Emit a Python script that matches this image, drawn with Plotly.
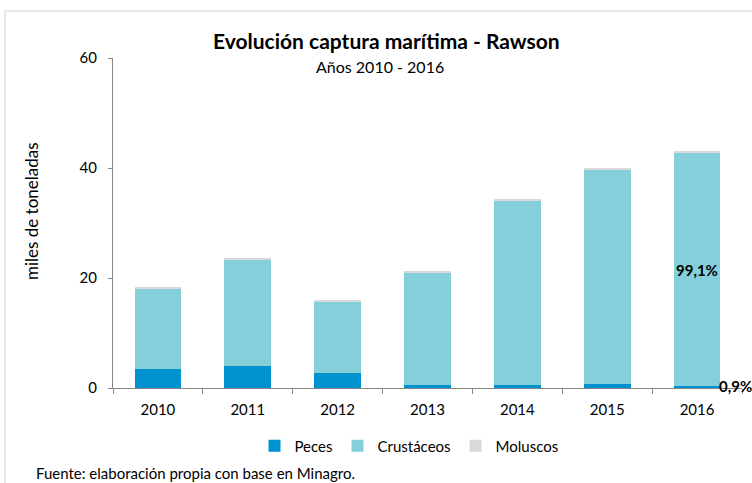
import plotly.graph_objects as go

years = ["2010", "2011", "2012", "2013", "2014", "2015", "2016"]
peces = [3.5, 4.05, 2.8, 0.6, 0.5, 0.8, 0.4]
crustaceos = [14.6, 19.4, 12.95, 20.4, 33.5, 39.0, 42.45]
moluscos = [0.3, 0.25, 0.25, 0.3, 0.2, 0.2, 0.2]

series_names = ["Peces", "Crustáceos", "Moluscos"]
series_vals = [peces, crustaceos, moluscos]
colors = ["#0091CF", "#84CFD9", "#D9D9D9"]

FONT = "Lato"
W, H = 752, 483
L, R, T, B = 113, 10, 58, 95
pw, ph = W - L - R, H - T - B

def px(x):
    return (x - L) / pw

def py(y):
    return (H - B - y) / ph

fig = go.Figure()
for name, vals, c in zip(series_names, series_vals, colors):
    fig.add_trace(go.Bar(x=years, y=vals, name=name, marker=dict(color=c, line=dict(width=0)),
                         hoverinfo="x+y+name"))

fig.update_layout(
    barmode="stack",
    bargap=0.48,
    width=W, height=H,
    margin=dict(l=L, r=R, t=T, b=B),
    plot_bgcolor="white", paper_bgcolor="white",
    font=dict(family=FONT, size=14, color="#000000"),
    showlegend=True,
    legend=dict(orientation="h", x=px(409), xanchor="center", y=py(446), yanchor="middle",
                font=dict(size=15), itemwidth=30, traceorder="normal"),
    xaxis=dict(type="category", categoryorder="array", categoryarray=years,
               range=[-0.5, len(years) - 0.5], autorange=False,
               showline=True, linecolor="#868686", linewidth=1,
               ticks="outside", tickson="boundaries", ticklen=5, tickcolor="#868686",
               tickfont=dict(size=15), tickangle=0, showgrid=False, ticklabelstandoff=8),
    yaxis=dict(range=[0, 60], dtick=20, showline=True, linecolor="#868686", linewidth=1,
               ticks="outside", ticklen=4, tickcolor="#868686", showgrid=False, zeroline=False,
               tickfont=dict(size=15), ticklabelstandoff=8),
)

fig.add_annotation(text="<b>Evolución captura marítima - Rawson</b>", xref="paper", yref="paper",
                   x=px(386), y=py(40), showarrow=False, font=dict(size=21), xanchor="center", yanchor="middle")
fig.add_annotation(text="Años 2010 - 2016", xref="paper", yref="paper",
                   x=px(380), y=py(67), showarrow=False, font=dict(size=16), xanchor="center", yanchor="middle")
fig.add_annotation(text="miles de toneladas", xref="paper", yref="paper",
                   x=px(31), y=py(211), showarrow=False, font=dict(size=17), textangle=-90,
                   xanchor="center", yanchor="middle")
fig.add_annotation(text="Fuente: elaboración propia con base en Minagro.", xref="paper", yref="paper",
                   x=px(34), y=py(473), showarrow=False, font=dict(size=15), xanchor="left", yanchor="middle")

tot16 = peces[-1] + crustaceos[-1] + moluscos[-1]
fig.add_annotation(text="<b>99,1%</b>", x=6, y=tot16 / 2, xref="x", yref="y", showarrow=False,
                   font=dict(size=15), xanchor="center", yanchor="middle")
fig.add_annotation(text="<b>0,9%</b>", x=px(717), y=peces[-1], xref="paper", yref="y", showarrow=False,
                   font=dict(size=15), xanchor="left", yanchor="middle")

fig.add_shape(type="rect", xref="paper", yref="paper", x0=px(5), x1=px(770), y0=py(500), y1=py(11),
              line=dict(color="#D0D0D0", width=1), fillcolor="rgba(0,0,0,0)", layer="below")

fig.write_html("out.html")
